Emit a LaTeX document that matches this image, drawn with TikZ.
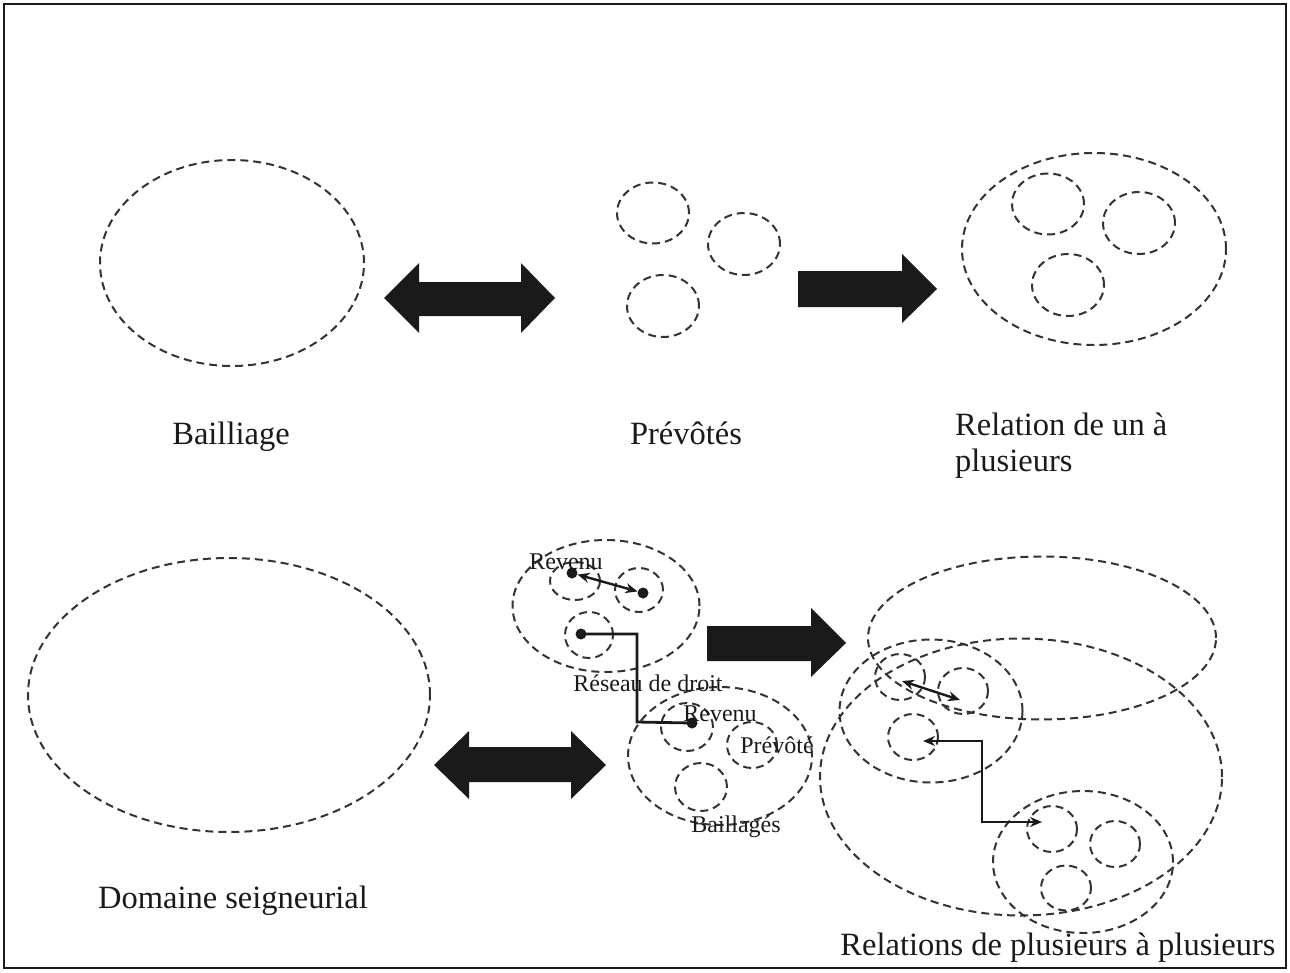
\documentclass[tikz,border=0pt]{standalone}
\usepackage{fontspec}
\setmainfont{Liberation Serif}
\usetikzlibrary{shapes.geometric,arrows.meta}
\definecolor{dashc}{HTML}{333333}
\definecolor{ink}{HTML}{1A1A1A}
\tikzset{
  ell/.style={ellipse,draw=dashc,line width=2pt,dash pattern=on 8pt off 5pt,inner sep=0pt,outer sep=0pt},
  big/.style={font=\fontsize{32.5}{40}\selectfont,text=ink,inner sep=0pt,anchor=base},
  small/.style={font=\fontsize{24}{28}\selectfont,text=ink,inner sep=0pt,anchor=base},
  block/.style={fill=ink},
  link/.style={draw=ink,line width=2.8pt},
  tips/.style={{Stealth[length=12pt,width=10pt]}-{Stealth[length=12pt,width=10pt]}},
  dotn/.style={circle,fill=ink,inner sep=0pt,minimum size=11pt}
}
\begin{document}
\begin{tikzpicture}[x=1pt,y=-1pt]
\useasboundingbox (0,0) rectangle (1290,972);
\draw[ink,line width=2.2pt] (4,4) rectangle (1286,968);

% ---------- top row ----------
\node[ell,minimum width=264pt,minimum height=206pt] (bail) at (232,263) {};
\node[ell,minimum width=72pt,minimum height=61pt] (p1) at (653,213) {};
\node[ell,minimum width=72pt,minimum height=62pt] (p2) at (744,244) {};
\node[ell,minimum width=72pt,minimum height=62pt] (p3) at (663,306) {};
\node[ell,minimum width=264pt,minimum height=192pt] (rel) at (1094,249) {};
\node[ell,minimum width=72pt,minimum height=61pt] (r1) at (1048,204) {};
\node[ell,minimum width=72pt,minimum height=62pt] (r2) at (1139,223) {};
\node[ell,minimum width=72pt,minimum height=62pt] (r3) at (1068,285) {};

% double block arrow top
\fill[block] (384,298) -- (419,263) -- (419,282) -- (521,282) -- (521,263) -- (555,298)
  -- (521,333) -- (521,316) -- (419,316) -- (419,333) -- cycle;
% single block arrow top
\fill[block] (798,271) -- (902,271) -- (902,254) -- (937,289) -- (902,323) -- (902,307) -- (798,307) -- cycle;

\node[big] (tb) at (231,444) {Bailliage};
\node[big] (tp) at (686,444) {Prévôtés};
\node[big,anchor=base west] (tr1) at (955,435) {Relation de un à};
\node[big,anchor=base west] (tr2) at (955,471) {plusieurs};

% ---------- bottom row ----------
\node[ell,minimum width=402pt,minimum height=274pt] (dom) at (229,695) {};
\fill[block] (434,765) -- (469,731) -- (469,747) -- (571,747) -- (571,731) -- (606,765)
  -- (571,799) -- (571,782) -- (469,782) -- (469,799) -- cycle;
\node[big] (td) at (233,908) {Domaine seigneurial};

% middle cluster
\node[ell,minimum width=187pt,minimum height=132pt] (mA) at (606,606) {};
\node[ell,minimum width=50pt,minimum height=38pt] (ma1) at (575,581) {};
\node[ell,minimum width=48pt,minimum height=44pt] (ma2) at (639,590) {};
\node[ell,minimum width=48pt,minimum height=46pt] (ma3) at (589,635) {};
\node[ell,minimum width=184pt,minimum height=138pt] (mB) at (720,756) {};
\node[ell,minimum width=52pt,minimum height=48pt] (mb1) at (687,727) {};
\node[ell,minimum width=50pt,minimum height=46pt] (mb2) at (752,745) {};
\node[ell,minimum width=52pt,minimum height=48pt] (mb3) at (701,787) {};

\node[dotn] (d1) at (572,573) {};
\node[dotn] (d2) at (643,593) {};
\node[dotn] (d3) at (581,634) {};
\node[dotn] (d4) at (692,723) {};
\draw[link,tips,line width=2.4pt] (d1) -- (d2);
\coordinate (m1) at (637,634);
\coordinate (m2) at (637,722);
\draw[link] (d3.center) -- (m1) -- (m2) -- (d4.center);

\node[small] (l1) at (566,569) {Revenu};
\node[small] (l2) at (648,691) {Réseau de droit};
\node[small] (l3) at (720,721) {Revenu};
\node[small] (l4) at (777,753) {Prévôté};
\node[small] (l5) at (736,832) {Baillagés};

\fill[block] (707,626) -- (811,626) -- (811,608) -- (846,643) -- (811,677) -- (811,661) -- (707,661) -- cycle;

% right cluster
\node[ell,minimum width=348pt,minimum height=163pt] (R1) at (1042,638) {};
\node[ell,minimum width=402pt,minimum height=277pt] (R2) at (1021,777) {};
\node[ell,minimum width=183pt,minimum height=143pt] (R3) at (931,711) {};
\node[ell,minimum width=50pt,minimum height=46pt] (R3a) at (900,677) {};
\node[ell,minimum width=50pt,minimum height=46pt] (R3b) at (963,691) {};
\node[ell,minimum width=50pt,minimum height=46pt] (R3c) at (913,737) {};
\node[ell,minimum width=180pt,minimum height=142pt] (R4) at (1083,862) {};
\node[ell,minimum width=50pt,minimum height=46pt] (R4a) at (1052,829) {};
\node[ell,minimum width=50pt,minimum height=46pt] (R4b) at (1115,844) {};
\node[ell,minimum width=50pt,minimum height=45pt] (R4c) at (1066,888) {};

\coordinate (a1) at (902,681);
\coordinate (a2) at (960,700);
\draw[link,tips,line width=2.4pt] (a1) -- (a2);
\coordinate (b1) at (923,741);
\coordinate (b2) at (982,741);
\coordinate (b3) at (982,822);
\coordinate (b4) at (1042,822);
\draw[link,tips] (b1) -- (b2) -- (b3) -- (b4);

\node[big] (trr) at (1058,955) {Relations de plusieurs à plusieurs};
\end{tikzpicture}
\end{document}
